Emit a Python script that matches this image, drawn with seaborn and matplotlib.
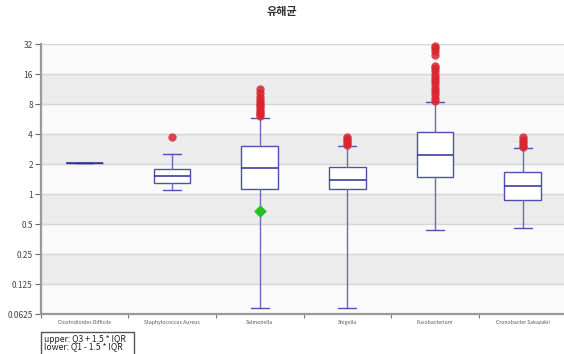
import matplotlib
matplotlib.use("Agg")
import matplotlib.pyplot as plt
import pandas as pd
import seaborn as sns
from matplotlib.patches import Rectangle
from matplotlib.ticker import FixedLocator, FixedFormatter, NullFormatter

# ---- data -------------------------------------------------------------
categories = ["Clostridioides Difficile", "Staphylococcus Aureus", "Salmonella",
              "Shigella", "Fusobacterium", "Cronobacter Sakazakii"]
whisker_low = [2.05, 1.09, 0.071, 0.072, 0.44, 0.46]
q1 = [2.05, 1.30, 1.12, 1.11, 1.48, 0.865]
median = [2.05, 1.53, 1.81, 1.39, 2.45, 1.20]
q3 = [2.05, 1.79, 3.00, 1.88, 4.16, 1.67]
whisker_high = [2.05, 2.52, 5.82, 3.04, 8.40, 2.88]

outliers_staphylococcus = [3.7]
outliers_salmonella = [6.0, 6.3, 6.6, 7.0, 7.4, 7.8, 8.2, 8.7, 9.3, 10.3, 11.3]
outliers_shigella = [3.1, 3.25, 3.4, 3.55, 3.7]
outliers_fusobacterium = [8.6, 9.2, 10.0, 10.8, 11.7, 12.6, 13.6, 14.7, 15.8,
                          17.0, 18.2, 19.2, 25.0, 27.0, 29.0, 30.5]
outliers_cronobacter = [2.95, 3.1, 3.3, 3.5, 3.7]

mean_category = ["Salmonella"]
mean_value = [0.68]

y_ticks = [0.0625, 0.125, 0.25, 0.5, 1, 2, 4, 8, 16, 32]
y_tick_labels = ["0.0625", "0.125", "0.25", "0.5", "1", "2", "4", "8", "16", "32"]

legend_lines = ["upper: Q3 + 1.5 * IQR", "lower: Q1 - 1.5 * IQR"]
title = "유해균"

# ---- style ------------------------------------------------------------
sns.set_theme(style="white")
plt.rcParams["font.family"] = ["Noto Sans CJK KR", "DejaVu Sans"]

fig = plt.figure(figsize=(5.64, 3.54), dpi=100)
ax = fig.add_axes([40.5 / 564, 40 / 354, 526 / 564, 270 / 354])
ax.set_yscale("log", base=2)
ax.set_ylim(y_ticks[0], y_ticks[-1])

# alternating horizontal bands between ticks
for i in range(len(y_ticks) - 1):
    ax.axhspan(y_ticks[i], y_ticks[i + 1],
               color="#fafafa" if i % 2 == 0 else "#ececec", lw=0, zorder=0)
for t in y_ticks:
    ax.axhline(t, color="#d6d6d6", lw=1.0, zorder=0.5)

# outliers drawn with seaborn on the categorical axis
outlier_df = pd.DataFrame({
    "category": (["Staphylococcus Aureus"] * len(outliers_staphylococcus)
                 + ["Salmonella"] * len(outliers_salmonella)
                 + ["Shigella"] * len(outliers_shigella)
                 + ["Fusobacterium"] * len(outliers_fusobacterium)
                 + ["Cronobacter Sakazakii"] * len(outliers_cronobacter)),
    "value": (outliers_staphylococcus + outliers_salmonella + outliers_shigella
              + outliers_fusobacterium + outliers_cronobacter),
})
sns.stripplot(data=outlier_df, x="category", y="value", order=categories,
              jitter=False, color="#d92530", alpha=0.85, size=6.0,
              linewidth=0, ax=ax, zorder=4, clip_on=False)

mean_df = pd.DataFrame({"category": mean_category, "value": mean_value})
sns.stripplot(data=mean_df, x="category", y="value", order=categories,
              jitter=False, color="#22c322", marker="D", size=6.5,
              linewidth=0, ax=ax, zorder=5)

# box statistics
stats = []
for i, name in enumerate(categories):
    stats.append({"label": name, "whislo": whisker_low[i], "q1": q1[i],
                  "med": median[i], "q3": q3[i], "whishi": whisker_high[i],
                  "fliers": []})
ax.bxp(stats, positions=range(len(categories)), widths=0.415,
       showfliers=False, patch_artist=True,
       boxprops=dict(facecolor="white", edgecolor="#4f4fb0", lw=1.0),
       medianprops=dict(color="#2e2e96", lw=1.1),
       whiskerprops=dict(color="#6a6abf", lw=1.0),
       capprops=dict(color="#4f4fb0", lw=1.0),
       zorder=3)

ax.set_xlim(-0.5, len(categories) - 0.5)
ax.set_xlabel("")
ax.set_ylabel("")

# axes ticks and labels
ax.yaxis.set_major_locator(FixedLocator(y_ticks))
ax.yaxis.set_major_formatter(FixedFormatter(y_tick_labels))
ax.yaxis.set_minor_formatter(NullFormatter())
ax.yaxis.set_minor_locator(FixedLocator([]))
ax.tick_params(axis="y", which="major", left=True, length=4, width=0.8,
               color="#666666", labelsize=6, labelcolor="#444444", pad=1.5)

ax.set_xticks(range(len(categories)))
ax.set_xticklabels(categories)
ax.set_xticks([i - 0.5 for i in range(len(categories) + 1)], minor=True)
ax.tick_params(axis="x", which="major", bottom=False, length=0,
               labelsize=3.7, labelcolor="#555555", pad=4)
ax.tick_params(axis="x", which="minor", bottom=True, length=3, width=0.8,
               color="#777777")

for side in ("top", "right"):
    ax.spines[side].set_visible(False)
for side in ("left", "bottom"):
    ax.spines[side].set_color("#999999")
    ax.spines[side].set_linewidth(1.6)
ax.grid(False)

fig.text(0.5, 1 - 12 / 354, title, ha="center", va="center",
         fontsize=8, fontweight="bold", color="#333333")

# whisker rule note
fig.patches.append(Rectangle((40.5 / 564, -0.01), 93 / 564, (354 - 331.5) / 354 + 0.01,
                             transform=fig.transFigure, facecolor="white",
                             edgecolor="#555555", lw=1.0))
fig.text(44 / 564, 1 - 339 / 354, legend_lines[0], ha="left", va="center",
         fontsize=6.2, fontweight="medium", color="#222222")
fig.text(44 / 564, 1 - 346.5 / 354, legend_lines[1], ha="left", va="center",
         fontsize=6.2, fontweight="medium", color="#222222")

fig.savefig("out.png", dpi=100)
